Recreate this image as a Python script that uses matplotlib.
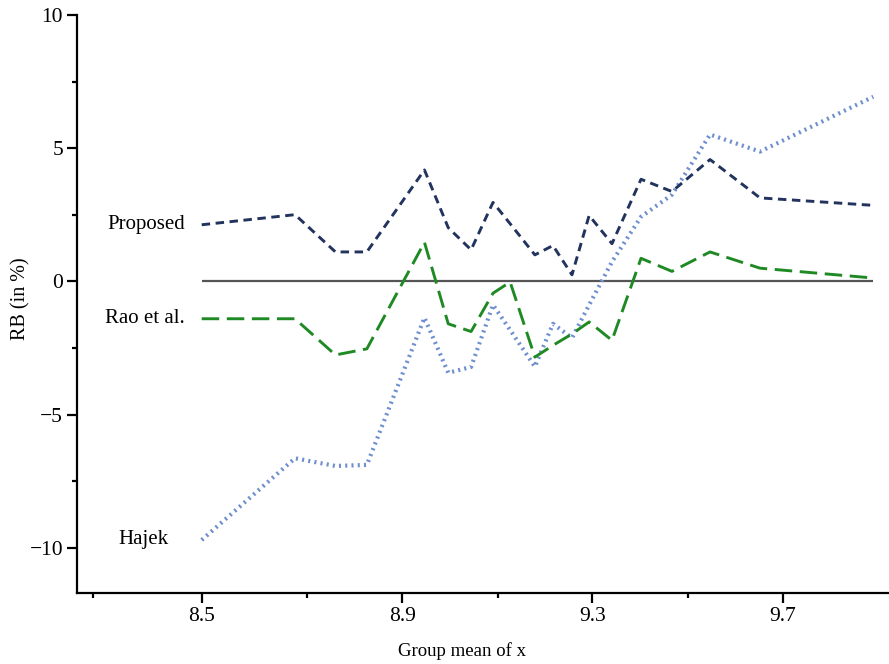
import numpy as np
import matplotlib
matplotlib.use("Agg")
import matplotlib.pyplot as plt
from matplotlib.ticker import FixedLocator

plt.rcParams['font.family'] = ['Liberation Serif', 'DejaVu Serif']
plt.rcParams['axes.unicode_minus'] = True

# group means (x) and relative bias (%)
group_mean = np.array([8.479, 8.675, 8.760, 8.826, 8.947, 8.997, 9.045, 9.091, 9.127,
                       9.179, 9.217, 9.257, 9.293, 9.341, 9.402, 9.467, 9.547, 9.652, 9.890])
rb_proposed = [2.13, 2.51, 1.11, 1.11, 4.19, 2.02, 1.19, 2.97, 2.17,
               1.00, 1.35, 0.25, 2.48, 1.42, 3.84, 3.38, 4.58, 3.14, 2.86]
rb_rao = [-1.40, -1.40, -2.76, -2.53, 1.47, -1.59, -1.88, -0.44, -0.02,
          -2.84, -2.40, -1.97, -1.52, -2.21, 0.87, 0.38, 1.11, 0.50, 0.13]
rb_hajek = [-9.71, -6.64, -6.93, -6.89, -1.36, -3.43, -3.21, -0.88, -1.82,
            -3.20, -1.59, -2.12, -0.88, 0.74, 2.43, 3.26, 5.52, 4.88, 6.94]

x_major = [8.479, 8.9, 9.3, 9.7]
x_labels = ['8.5', '8.9', '9.3', '9.7']
x_minor = [8.251, 8.7, 9.102, 9.501]
y_major = [-10, -5, 0, 5, 10]
y_minor = [-7.5, -2.5, 2.5, 7.5]

fig = plt.figure(figsize=(8.89, 6.64), dpi=100)
ax = fig.add_axes([0.0866, 0.107, 0.9134, 0.870])

ax.hlines(0, group_mean[0], group_mean[-1], color='#555555', lw=1.6, zorder=1)
ax.plot(group_mean, rb_hajek, color='#6f8fcf', lw=3.0, dashes=(0.5, 1.0),
        dash_capstyle='butt', zorder=2)
ax.plot(group_mean, rb_rao, color='#1f8a24', lw=2.1, dashes=(6.0, 2.6), zorder=3)
ax.plot(group_mean, rb_proposed, color='#22345e', lw=2.1, dashes=(2.9, 1.9), zorder=4)

# series labels placed left of the first point
labels = [('Proposed', rb_proposed, 12), ('Rao et al.', rb_rao, 12), ('Hajek', rb_hajek, 24)]
for name, series, off in labels:
    ax.annotate(name, xy=(group_mean[0], series[0]), xytext=(-off, 0),
                textcoords='offset points', ha='right', va='center', fontsize=15)

ax.set_xlim(8.217, 9.923)
ax.set_ylim(-11.7, 10)
ax.xaxis.set_major_locator(FixedLocator(x_major))
ax.set_xticklabels(x_labels)
ax.xaxis.set_minor_locator(FixedLocator(x_minor))
ax.yaxis.set_major_locator(FixedLocator(y_major))
ax.yaxis.set_minor_locator(FixedLocator(y_minor))

for side in ['top', 'right']:
    ax.spines[side].set_visible(False)
for side in ['left', 'bottom']:
    ax.spines[side].set_linewidth(1.6)
ax.tick_params(which='major', length=7, width=1.6, labelsize=15.5, pad=3)
ax.tick_params(which='minor', length=3.5, width=1.6)

ax.set_xlabel('Group mean of x', fontsize=13.5)
ax.set_ylabel('RB (in %)', fontsize=14.5)
ax.xaxis.set_label_coords(0.474, -0.085)
ax.yaxis.set_label_coords(-0.057, 0.51)

fig.savefig('out.png', dpi=100)
